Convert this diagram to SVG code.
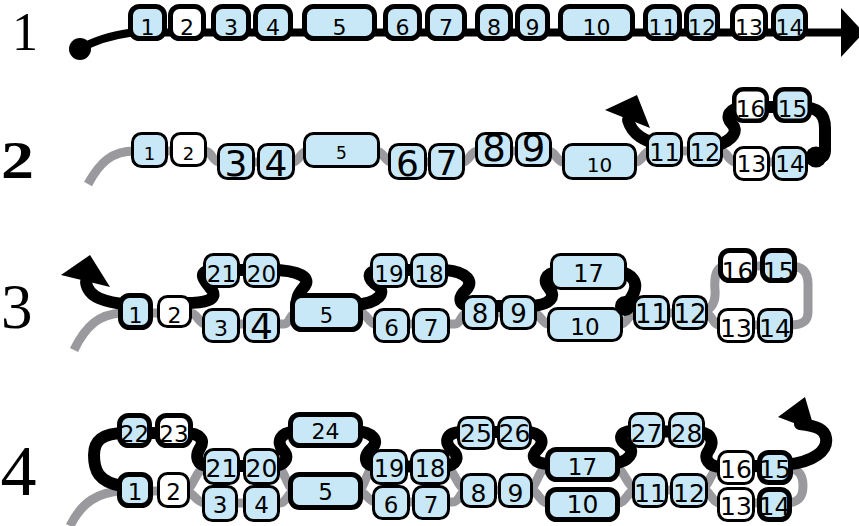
<svg xmlns="http://www.w3.org/2000/svg" width="859" height="526" viewBox="0 0 859 526">
<style>
.b{fill:#c8e8f8;stroke:#000;stroke-width:3}
.w{fill:#fff;stroke:#000;stroke-width:3}
.t{stroke-width:5}
.m{stroke-width:4.5}
text{font-family:"DejaVu Sans","Liberation Sans",sans-serif;text-anchor:middle;fill:#000}
.lab{font-family:"Liberation Serif","DejaVu Serif",serif;text-anchor:start}
.g{fill:none;stroke:#9a9a9e;stroke-width:9;stroke-linecap:butt}
.k{fill:none;stroke:#000;stroke-width:12;stroke-linecap:round}
.ah{fill:#000}
</style>
<rect width="859" height="526" fill="#fff"/>
<g id="labels">
<text class="lab" x="12" y="50" font-size="55" textLength="26" lengthAdjust="spacingAndGlyphs">1</text>
<text class="lab" x="1" y="178" font-size="52" font-weight="bold" textLength="33" lengthAdjust="spacingAndGlyphs">2</text>
<text class="lab" x="1" y="328" font-size="63">3</text>
<text class="lab" x="0.5" y="495" font-size="72">4</text>
</g>
<g id="connectors">
<!-- row 1 -->
<path d="M80 49 Q100 37 132 32.5 L845 32.5" fill="none" stroke="#000" stroke-width="8"/>
<circle cx="80" cy="49" r="11" fill="#000"/>
<polygon class="ah" points="841,8 864,32.5 841,57"/>
<!-- row 2 gray -->
<path class="g" d="M88 184 C100 162 112 151 135 151 L205 151 C212 151 212 162 220 162 L292 162 C300 162 300 151 308 151 L376 151 C384 151 384 162 392 162 L462 162 C470 162 470 151 478 151 L548 151 C556 151 556 162 564 162 L635 162 C643 162 643 151 651 151 L720 151 C728 151 728 162 736 162 L800 162"/>
<!-- row 2 black -->
<path class="k" stroke-width="10" d="M662 146 C645 141 632 135 628 120"/>
<polygon class="ah" points="637,95 605,110 650,128"/>
<path class="k" stroke-width="10" d="M715 146 C735 140 738 130 732 124 C725 117 728 108 745 107 L800 107 C818 107 825 114 825 128 L825 150 C825 156 822 158 816 158"/>
<!-- row 3 gray -->
<path class="g" d="M74 350 C86 325 100 314 122 313 L190 313 C198 313 198 324 206 324 L284 324 C290 324 290 313 296 313 L360 313 C368 313 368 324 376 324 L455 324 C461 324 461 313 467 313 L533 313 C541 313 541 324 549 324 L620 324 C628 324 628 313 636 313 L705 313 C712 313 712 325 720 325 L790 325"/>
<path class="g" d="M700 313 C712 310 716 302 715 290 C714 278 716 267 725 266 L790 266 C804 266 808 274 808 284 L808 312 C808 321 803 325 790 325"/>
<!-- row 3 black -->
<path class="k" d="M130 305 C105 302 88 298 86 282"/>
<polygon class="ah" points="90,255 61,275 110,287"/>
<path class="k" d="M185 303 C205 303 218 300 212 290 C206 282 195 272 212 270 L270 270 C300 270 312 278 304 287 C298 294 292 304 305 305 L355 305 C380 303 386 292 378 286 C368 280 365 271 380 270 L445 270 C468 272 474 282 466 290 C458 297 458 305 470 306 L530 306 C552 305 556 296 549 288 C543 281 545 273 558 272 L620 272 C632 274 638 282 634 292 C632 298 628 302 625 306"/>
<!-- row 4 gray -->
<path class="g" d="M70 526 C82 502 98 492 122 491 L185 491 C193 491 196 503 205 503 L280 503 C287 503 288 491 295 491 L358 491 C366 491 368 502 376 502 L453 502 C460 502 460 490 467 490 L530 490 C538 490 540 503 548 503 L618 503 C626 503 628 490 636 490 L703 490 C710 490 712 503 720 503 L785 503"/>
<path class="g" d="M185 490 C195 488 195 467 208 467 L275 467 C286 467 285 488 295 490"/>
<path class="g" d="M358 490 C366 488 366 467 376 467 L445 467 C455 468 456 488 467 490"/>
<path class="g" d="M528 490 C538 488 538 466 550 465 L612 465 C624 466 626 486 636 490"/>
<path class="g" d="M700 490 C710 488 710 468 722 468 L785 468 C800 468 803 476 803 486 C803 496 800 503 785 503"/>
<!-- row 4 black -->
<path class="k" stroke-width="14" d="M125 433 C100 433 94 442 94 455 C94 470 98 482 122 486"/>
<path class="k" d="M125 433 L185 433 C200 433 205 440 200 448 C195 456 196 466 210 466 L272 466 C285 466 290 458 283 450 C276 442 280 432 295 432 L355 431 C372 432 380 440 372 448 C364 455 362 466 378 466 L442 467 C458 466 460 456 452 450 C444 443 445 432 462 432 L525 432 C542 432 545 442 538 449 C530 456 533 464 550 464 L615 463 C628 462 636 452 628 446 C618 440 618 431 634 431 L700 432 C712 434 714 442 709 450 C703 458 708 467 722 467 L785 465 C815 462 828 450 826 438 C825 430 818 426 800 424"/>
<polygon class="ah" points="805,397 778,417 815,431"/>
</g>
<g id="nodes">
<!-- row 1 -->
<g id="r1-1"><rect class="b t" x="130.5" y="6.5" width="34" height="32" rx="9"/><text x="147.5" y="35" font-size="22">1</text></g>
<g id="r1-2"><rect class="w t" x="170.5" y="6.5" width="33" height="32" rx="9"/><text x="187" y="35" font-size="22">2</text></g>
<g id="r1-3"><rect class="b t" x="213.5" y="6.5" width="35" height="32" rx="9"/><text x="231" y="35" font-size="22">3</text></g>
<g id="r1-4"><rect class="b t" x="255.5" y="6.5" width="35" height="32" rx="9"/><text x="273" y="35" font-size="22">4</text></g>
<g id="r1-5"><rect class="b t" x="304.5" y="6.5" width="70" height="32" rx="9"/><text x="339.5" y="35" font-size="22">5</text></g>
<g id="r1-6"><rect class="b t" x="385.5" y="6.5" width="34" height="32" rx="9"/><text x="402.5" y="35" font-size="22">6</text></g>
<g id="r1-7"><rect class="b t" x="427.5" y="6.5" width="37" height="32" rx="9"/><text x="446" y="35" font-size="22">7</text></g>
<g id="r1-8"><rect class="b t" x="477.5" y="6.5" width="33" height="32" rx="9"/><text x="494" y="35" font-size="22">8</text></g>
<g id="r1-9"><rect class="b t" x="517.5" y="6.5" width="30" height="32" rx="9"/><text x="532.5" y="35" font-size="22">9</text></g>
<g id="r1-10"><rect class="b t" x="560.5" y="6.5" width="72" height="32" rx="9"/><text x="596.5" y="35" font-size="22">10</text></g>
<g id="r1-11"><rect class="b t" x="645.5" y="6.5" width="34" height="32" rx="9"/><text x="662.5" y="35" font-size="22">11</text></g>
<g id="r1-12"><rect class="b t" x="686.5" y="6.5" width="31" height="32" rx="9"/><text x="702" y="35" font-size="22">12</text></g>
<g id="r1-13"><rect class="w t" x="732.5" y="6.5" width="33" height="32" rx="9"/><text x="749" y="35" font-size="22">13</text></g>
<g id="r1-14"><rect class="b t" x="773.5" y="6.5" width="32" height="32" rx="9"/><text x="789.5" y="35" font-size="22">14</text></g>
<!-- row 2 -->
<g id="r2-1"><rect class="b" x="132.5" y="133.5" width="34" height="33" rx="9"/><text x="149.5" y="160" font-size="18">1</text></g>
<g id="r2-2"><rect class="w" x="171.5" y="133.5" width="34" height="32" rx="9"/><text x="188.5" y="160" font-size="18">2</text></g>
<g id="r2-3"><rect class="b" x="218.5" y="144.5" width="35" height="34" rx="9"/><text x="236" y="176" font-size="36">3</text></g>
<g id="r2-4"><rect class="b" x="258.5" y="144.5" width="35" height="34" rx="9"/><text x="276" y="176" font-size="36">4</text></g>
<g id="r2-5"><rect class="b" x="304.5" y="133.5" width="74" height="33" rx="9"/><text x="341.5" y="159" font-size="17">5</text></g>
<g id="r2-6"><rect class="b" x="389.5" y="144.5" width="36" height="34" rx="9"/><text x="407.5" y="176" font-size="36">6</text></g>
<g id="r2-7"><rect class="b" x="429.5" y="144.5" width="34" height="34" rx="9"/><text x="446.5" y="175" font-size="34">7</text></g>
<g id="r2-8"><rect class="b" x="476.5" y="133.5" width="35" height="32" rx="9"/><text x="494" y="161" font-size="37">8</text></g>
<g id="r2-9"><rect class="b" x="516.5" y="133.5" width="34" height="32" rx="9"/><text x="533.5" y="161" font-size="37">9</text></g>
<g id="r2-10"><rect class="b" x="563.5" y="144.5" width="72" height="34" rx="9"/><text x="599.5" y="172" font-size="20">10</text></g>
<g id="r2-11"><rect class="b" x="647.5" y="133.5" width="34" height="32" rx="9"/><text x="664.5" y="161" font-size="24">11</text></g>
<g id="r2-12"><rect class="b" x="688.5" y="133.5" width="33" height="32" rx="9"/><text x="705" y="161" font-size="24">12</text></g>
<g id="r2-16"><rect class="w m" x="734.25" y="89.25" width="32.5" height="31.5" rx="9"/><text x="750.5" y="117" font-size="23">16</text></g>
<g id="r2-15"><rect class="b m" x="775.25" y="89.25" width="34.5" height="31.5" rx="9"/><text x="792.5" y="117" font-size="23">15</text></g>
<g id="r2-13"><rect class="w" x="734.5" y="147.5" width="34" height="32" rx="9"/><text x="751.5" y="172" font-size="23">13</text></g>
<g id="r2-14"><rect class="b" x="773.5" y="147.5" width="33" height="32" rx="9"/><text x="790" y="172" font-size="23">14</text></g>
<!-- row 3 -->
<g id="r3-1"><rect class="b t" x="120.5" y="295.5" width="30" height="32" rx="9"/><text x="135.5" y="323" font-size="22">1</text></g>
<g id="r3-2"><rect class="w" x="158.5" y="296.5" width="32" height="30" rx="9"/><text x="174.5" y="323" font-size="22">2</text></g>
<g id="r3-21"><rect class="b" x="204.5" y="254.5" width="34" height="32" rx="9"/><text x="221.5" y="282" font-size="23">21</text></g>
<g id="r3-20"><rect class="b" x="244.5" y="254.5" width="34" height="32" rx="9"/><text x="261.5" y="282" font-size="23">20</text></g>
<g id="r3-3"><rect class="b" x="203.5" y="309.5" width="35" height="32" rx="9"/><text x="221" y="336" font-size="22">3</text></g>
<g id="r3-4"><rect class="b" x="244.5" y="309.5" width="34" height="32" rx="9"/><text x="261.5" y="339" font-size="36">4</text></g>
<g id="r3-5"><rect class="b t" x="292.5" y="295.5" width="68" height="34" rx="9"/><text x="326.5" y="323" font-size="21">5</text></g>
<g id="r3-19"><rect class="b" x="371.5" y="254.5" width="35" height="32" rx="9"/><text x="389" y="282" font-size="23">19</text></g>
<g id="r3-18"><rect class="b" x="411.5" y="254.5" width="35" height="32" rx="9"/><text x="429" y="282" font-size="23">18</text></g>
<g id="r3-6"><rect class="b" x="374.5" y="309.5" width="34" height="32" rx="9"/><text x="391.5" y="336" font-size="23">6</text></g>
<g id="r3-7"><rect class="b" x="413.5" y="309.5" width="35" height="32" rx="9"/><text x="431" y="336" font-size="23">7</text></g>
<g id="r3-8"><rect class="b" x="463.5" y="296.5" width="33" height="32" rx="9"/><text x="480" y="323" font-size="26">8</text></g>
<g id="r3-9"><rect class="b" x="501.5" y="296.5" width="34" height="32" rx="9"/><text x="518.5" y="323" font-size="26">9</text></g>
<g id="r3-17"><rect class="b" x="551.5" y="254.5" width="74" height="34" rx="9"/><text x="588.5" y="282" font-size="24">17</text></g>
<g id="r3-10"><rect class="b" x="548.5" y="308.5" width="73" height="32" rx="9"/><text x="585" y="335" font-size="23">10</text></g>
<g id="r3-11"><rect class="b" x="634.5" y="296.5" width="34" height="32" rx="9"/><text x="651.5" y="323" font-size="26">11</text></g>
<g id="r3-12"><rect class="b" x="673.5" y="296.5" width="33" height="32" rx="9"/><text x="690" y="323" font-size="26">12</text></g>
<g id="r3-16"><rect class="w t" x="720.5" y="250.5" width="34" height="30" rx="9"/><text x="737.5" y="280" font-size="25">16</text></g>
<g id="r3-15"><rect class="b t" x="762.5" y="250.5" width="32" height="30" rx="9"/><text x="778.5" y="280" font-size="25">15</text></g>
<g id="r3-13"><rect class="w" x="718.5" y="309.5" width="35" height="32" rx="9"/><text x="736" y="337" font-size="25">13</text></g>
<g id="r3-14"><rect class="b" x="758.5" y="309.5" width="33" height="32" rx="9"/><text x="775" y="337" font-size="25">14</text></g>
<!-- row 4 -->
<g id="r4-22"><rect class="b t" x="119.5" y="415.5" width="30" height="30" rx="9"/><text x="134.5" y="442" font-size="23">22</text></g>
<g id="r4-23"><rect class="w t" x="157.5" y="415.5" width="33" height="30" rx="9"/><text x="174" y="442" font-size="23">23</text></g>
<g id="r4-1"><rect class="b t" x="119.5" y="474.5" width="31" height="31" rx="9"/><text x="135" y="500" font-size="23">1</text></g>
<g id="r4-2"><rect class="w" x="158.5" y="473.5" width="30" height="33" rx="9"/><text x="173.5" y="500" font-size="23">2</text></g>
<g id="r4-21"><rect class="b" x="204.5" y="449.5" width="34" height="34" rx="9"/><text x="221.5" y="477" font-size="25">21</text></g>
<g id="r4-20"><rect class="b" x="244.5" y="449.5" width="34" height="34" rx="9"/><text x="261.5" y="477" font-size="25">20</text></g>
<g id="r4-3"><rect class="b" x="203.5" y="486.5" width="33" height="34" rx="9"/><text x="220" y="513" font-size="23">3</text></g>
<g id="r4-4"><rect class="b" x="244.5" y="486.5" width="34" height="34" rx="9"/><text x="261.5" y="513" font-size="23">4</text></g>
<g id="r4-24"><rect class="b t" x="290.5" y="414.5" width="70" height="31" rx="9"/><text x="325.5" y="439" font-size="22">24</text></g>
<g id="r4-5"><rect class="b t" x="290.5" y="474.5" width="70" height="33" rx="9"/><text x="325.5" y="500" font-size="23">5</text></g>
<g id="r4-19"><rect class="b" x="371.5" y="450.5" width="35" height="33" rx="9"/><text x="389" y="477" font-size="24">19</text></g>
<g id="r4-18"><rect class="b" x="411.5" y="450.5" width="37" height="33" rx="9"/><text x="430" y="477" font-size="24">18</text></g>
<g id="r4-6"><rect class="b" x="373.5" y="486.5" width="35" height="32" rx="9"/><text x="391" y="513" font-size="23">6</text></g>
<g id="r4-7"><rect class="b" x="413.5" y="486.5" width="35" height="32" rx="9"/><text x="431" y="513" font-size="23">7</text></g>
<g id="r4-25"><rect class="b" x="458.5" y="417.5" width="35" height="31" rx="9"/><text x="476" y="442" font-size="25">25</text></g>
<g id="r4-26"><rect class="b" x="498.5" y="417.5" width="32" height="31" rx="9"/><text x="514.5" y="442" font-size="25">26</text></g>
<g id="r4-8"><rect class="b" x="461.5" y="474.5" width="34" height="32" rx="9"/><text x="478.5" y="502" font-size="25">8</text></g>
<g id="r4-9"><rect class="b" x="499.5" y="474.5" width="32" height="32" rx="9"/><text x="515.5" y="502" font-size="25">9</text></g>
<g id="r4-17"><rect class="b t" x="547.5" y="449.5" width="70" height="30" rx="9"/><text x="582.5" y="475" font-size="23">17</text></g>
<g id="r4-10"><rect class="b t" x="547.5" y="489.5" width="70" height="30" rx="9"/><text x="582.5" y="513" font-size="25">10</text></g>
<g id="r4-11"><rect class="b" x="633.5" y="474.5" width="33" height="32" rx="9"/><text x="650" y="502" font-size="25">11</text></g>
<g id="r4-12"><rect class="b" x="671.5" y="474.5" width="35" height="32" rx="9"/><text x="689" y="502" font-size="25">12</text></g>
<g id="r4-27"><rect class="b" x="629.5" y="413.5" width="34" height="33" rx="9"/><text x="646.5" y="442" font-size="25">27</text></g>
<g id="r4-28"><rect class="b" x="669.5" y="413.5" width="34" height="33" rx="9"/><text x="686.5" y="442" font-size="25">28</text></g>
<g id="r4-16"><rect class="w" x="718.5" y="451.5" width="35" height="32" rx="9"/><text x="736" y="478" font-size="25">16</text></g>
<g id="r4-15"><rect class="b t" x="759.5" y="452.5" width="31" height="30" rx="9"/><text x="775" y="478" font-size="25">15</text></g>
<g id="r4-13"><rect class="w" x="718.5" y="488.5" width="35" height="32" rx="9"/><text x="736" y="515" font-size="25">13</text></g>
<g id="r4-14"><rect class="b t" x="759.5" y="489.5" width="30" height="30" rx="9"/><text x="774.5" y="515" font-size="25">14</text></g>
</g>
<g id="connector-ends">
<circle cx="816" cy="157" r="10.5" fill="#000"/>
<circle cx="625" cy="306" r="10" fill="#000"/>
</g>
</svg>
